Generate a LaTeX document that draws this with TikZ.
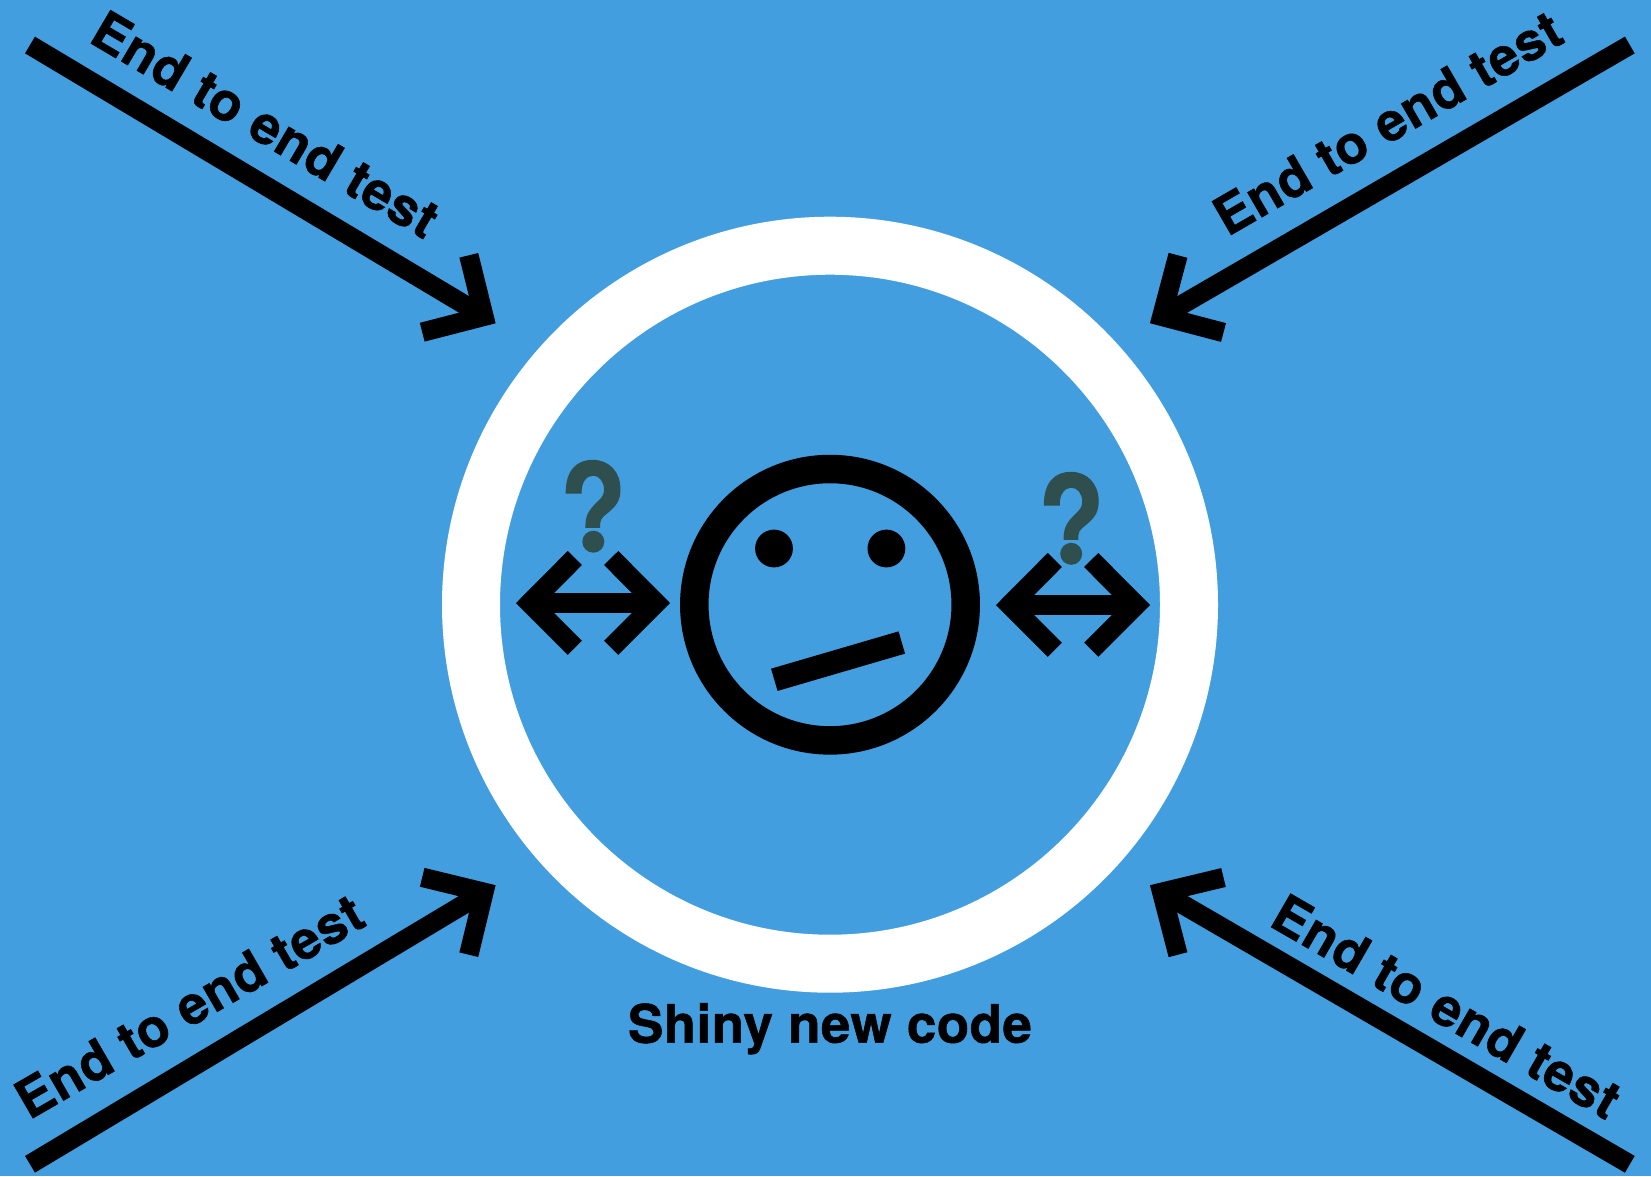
\documentclass[tikz,border=0pt]{standalone}
\usepackage{fontspec}
\setmainfont{TeX Gyre Heros}
\newfontfamily\labfont[LetterSpace=1.6,BoldFeatures={FakeBold=1}]{TeX Gyre Heros}
\newfontfamily\codefont[LetterSpace=0.8,BoldFeatures={FakeBold=1}]{TeX Gyre Heros}
\newfontfamily\qfont[BoldFeatures={FakeBold=1}]{TeX Gyre Heros}
\definecolor{bgblue}{RGB}{66,158,222}
\definecolor{qgray}{RGB}{47,79,79}
\tikzset{
  bigarrow/.style={draw=black,line width=19.4pt,line cap=butt,line join=miter},
  dblarrow/.style={draw=black,line width=20pt,line cap=butt,line join=miter},
  label/.style={inner sep=0pt,outer sep=0pt,anchor=base west,font=\labfont\bfseries\fontsize{53}{60}\selectfont,text=black},
  codelabel/.style={inner sep=0pt,outer sep=0pt,anchor=base west,font=\codefont\bfseries\fontsize{53}{60}\selectfont,text=black},
  qmark/.style={inner sep=0pt,outer sep=0pt,anchor=base,transform shape,xscale=0.88,font=\qfont\bfseries\fontsize{124}{140}\selectfont,text=qgray},
}
\begin{document}
\begin{tikzpicture}[x=1pt,y=-1pt]
\useasboundingbox (0,0) rectangle (1651,1176);
\fill[bgblue] (0,0) rectangle (1651,1176);
% ring
\draw[white,line width=58pt] (830,604.7) circle[radius=359];
% face
\draw[black,line width=28.5pt] (830,604.7) circle[radius=135.7];
\fill[black] (774,548.5) circle[radius=18.9];
\fill[black] (886.4,548.5) circle[radius=18.9];
\coordinate (mouthA) at (774.3,679.8);
\coordinate (mouthB) at (901.8,642.5);
\draw[black,line width=23.2pt] (mouthA) -- (mouthB);
% big arrows
\coordinate (tlT) at (30,45);
\coordinate (tlA) at (483.9,316.3);
\coordinate (tlU) at (468.8,255.3);
\coordinate (tlV) at (422.2,332.2);
\draw[bigarrow] (tlT) -- (tlA);
\draw[bigarrow] (tlU) -- (tlA) -- (tlV);
\coordinate (trT) at (1629.8,45);
\coordinate (trA) at (1161.8,316.3);
\coordinate (trU) at (1178,255.3);
\coordinate (trV) at (1223.5,332.5);
\draw[bigarrow] (trT) -- (trA);
\draw[bigarrow] (trU) -- (trA) -- (trV);
\coordinate (blT) at (30,1164.3);
\coordinate (blA) at (483.9,892.3);
\coordinate (blU) at (468.8,954.7);
\coordinate (blV) at (422.2,877.3);
\draw[bigarrow] (blT) -- (blA);
\draw[bigarrow] (blU) -- (blA) -- (blV);
\coordinate (brT) at (1629.8,1164.3);
\coordinate (brA) at (1161.8,892.3);
\coordinate (brU) at (1178,954.7);
\coordinate (brV) at (1223.5,877.5);
\draw[bigarrow] (brT) -- (brA);
\draw[bigarrow] (brU) -- (brA) -- (brV);
% double arrows
\coordinate (laL) at (530.1,603);
\coordinate (laR) at (655.9,603);
\draw[dblarrow] (laL) -- (laR);
\draw[dblarrow] (574.8,558) -- (laL) -- (574.8,647.8);
\draw[dblarrow] (611.2,558) -- (laR) -- (611.2,647.8);
\coordinate (raL) at (1010.1,605);
\coordinate (raR) at (1135.9,605);
\draw[dblarrow] (raL) -- (raR);
\draw[dblarrow] (1054.8,560) -- (raL) -- (1054.8,649.7);
\draw[dblarrow] (1091.2,560) -- (raR) -- (1091.2,649.7);
% question marks: the glyph's square dot is replaced by the round dot of the reference
\begin{scope}
\clip (540,440) rectangle (650,527.5);
\node[qmark] (q1) at (593,552.7) {?};
\end{scope}
\fill[qgray] (593.3,541.7) circle[radius=11];
\begin{scope}
\clip (1020,450) rectangle (1130,539.5);
\node[qmark] (q2) at (1071.2,564.7) {?};
\end{scope}
\fill[qgray] (1071.2,553.8) circle[radius=11];
% labels
\node[label,rotate=-30.5] (ltl) at (87.3,41.3) {End to end test};
\node[label,rotate=30] (ltr) at (1227.6,237) {End to end test};
\node[label,rotate=30] (lbl) at (29.3,1120.3) {End to end test};
\node[label,rotate=-30] (lbr) at (1267.6,925) {End to end test};
\node[codelabel] (code) at (628,1042.7) {Shiny new code};
\end{tikzpicture}
\end{document}
